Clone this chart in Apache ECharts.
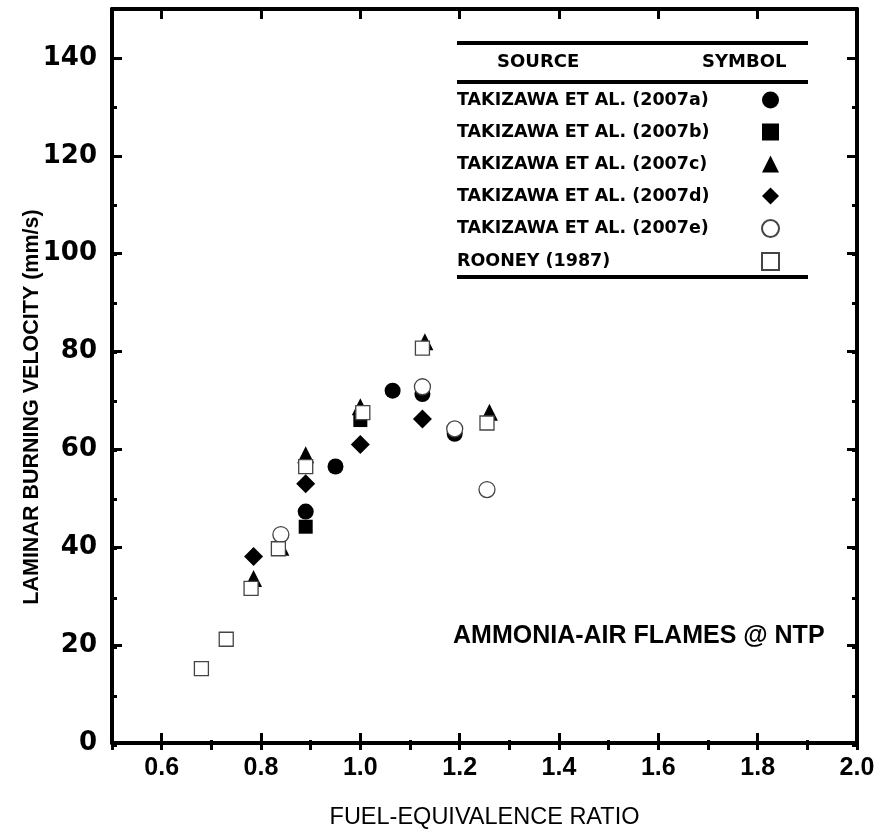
<!DOCTYPE html>
<html>
<head>
<meta charset="utf-8">
<title>Ammonia-air laminar burning velocity</title>
<script src="https://cdn.jsdelivr.net/npm/echarts@6/dist/echarts.min.js"></script>
<style>
	html, body { margin: 0; padding: 0; background: #fff; }
	#chart { width: 880px; height: 835px; }
</style>
</head>
<body>
<div id="chart"></div>
<script>
/* series names (legend order) */
var sourceNames = [
	"TAKIZAWA ET AL. (2007a)",
	"TAKIZAWA ET AL. (2007b)",
	"TAKIZAWA ET AL. (2007c)",
	"TAKIZAWA ET AL. (2007d)",
	"TAKIZAWA ET AL. (2007e)",
	"ROONEY (1987)"
];

/* fuel-equivalence ratio / burning velocity (mm/s) */
var phiA = [0.89, 0.95, 1.065, 1.125, 1.19];
var suA = [47.3, 56.5, 72.0, 71.3, 63.2];

var phiB = [0.89, 1.0];
var suB = [44.2, 66.0];

var phiC = [0.785, 0.84, 0.89, 1.0, 1.13, 1.26];
var suC = [33.6, 40.0, 58.9, 68.7, 82.0, 67.6];

var phiD = [0.785, 0.89, 1.0, 1.125];
var suD = [38.1, 53.0, 61.0, 66.2];

var phiE = [0.84, 1.125, 1.19, 1.255];
var suE = [42.6, 72.8, 64.2, 51.8];

var phiR = [0.68, 0.73, 0.78, 0.835, 0.89, 1.005, 1.125, 1.255];
var suR = [15.2, 21.2, 31.6, 39.7, 56.5, 67.5, 80.7, 65.4];

/* axis ranges */
var xMin = 0.5, xMax = 2.0, xMajor = 0.2, xMinor = 0.1;
var yMin = 0, yMax = 150, yMajor = 20, yMinor = 10;

window.onload = function () {
	var chart = echarts.init(document.getElementById("chart"), null, { renderer: "canvas" });

	function pairs(xs, ys) {
		var out = [];
		for (var i = 0; i < xs.length; i++) {
			out.push([xs[i], ys[i]]);
		}
		return out;
	}

	var gridBox = { left: 112, right: 23, top: 9, bottom: 90 };
	var lineStyle = { color: "#000", width: 4 };

	// major ticks + labels (grid 0)
	function majorX(pos, labels) {
		return {
			type: "value", gridIndex: 0, position: pos,
			min: xMin, max: xMax, minInterval: xMajor, maxInterval: xMajor,
			axisLine: { show: true, onZero: false, lineStyle: lineStyle },
			axisTick: { show: true, inside: true, length: 10, lineStyle: { color: "#000", width: 3 } },
			axisLabel: {
				show: labels, margin: 13, showMinLabel: false,
				fontFamily: "Liberation Sans", fontWeight: "bold", fontSize: 25, color: "#000",
				formatter: function (v) { return v.toFixed(1); }
			},
			splitLine: { show: false },
			name: labels ? "FUEL-EQUIVALENCE RATIO" : "",
			nameLocation: "middle", nameGap: 63, nameMoveOverlap: false,
			nameTextStyle: { fontFamily: "Liberation Sans", fontSize: 23.5, color: "#000" }
		};
	}
	function majorY(pos, labels) {
		return {
			type: "value", gridIndex: 0, position: pos,
			min: yMin, max: yMax, interval: yMajor,
			axisLine: { show: true, onZero: false, lineStyle: lineStyle },
			axisTick: { show: true, inside: true, length: 10, lineStyle: { color: "#000", width: 3 } },
			axisLabel: {
				show: labels, margin: 15, showMaxLabel: false,
				fontFamily: "DejaVu Sans", fontWeight: "bold", fontSize: 26, color: "#000"
			},
			splitLine: { show: false },
			name: labels ? "LAMINAR BURNING VELOCITY (mm/s)" : "",
			nameLocation: "middle", nameGap: 69, nameMoveOverlap: false,
			nameTextStyle: {
				fontFamily: "Liberation Sans", fontWeight: "bold", fontSize: 21.5, color: "#000",
				padding: [0, 62, 0, 0]
			}
		};
	}
	// minor ticks (grid 1, same box)
	function minorX(pos) {
		return {
			type: "value", gridIndex: 1, position: pos,
			min: xMin, max: xMax, interval: xMinor,
			axisLine: { show: false },
			axisTick: { show: true, inside: true, length: 5, lineStyle: { color: "#000", width: 3 } },
			axisLabel: { show: false },
			splitLine: { show: false }
		};
	}
	function minorY(pos) {
		return {
			type: "value", gridIndex: 1, position: pos,
			min: yMin, max: yMax, interval: yMinor,
			axisLine: { show: false },
			axisTick: { show: true, inside: true, length: 5, lineStyle: { color: "#000", width: 3 } },
			axisLabel: { show: false },
			splitLine: { show: false }
		};
	}

	var filled = { color: "#000", opacity: 1 };
	var hollow = { color: "#fff", borderColor: "#444", borderWidth: 1.3, opacity: 1 };

	function scatter(name, xs, ys, symbol, size, style) {
		return {
			name: name, type: "scatter", xAxisIndex: 0, yAxisIndex: 0,
			symbol: symbol, symbolSize: size, itemStyle: style,
			emphasis: { disabled: true },
			data: pairs(xs, ys)
		};
	}

	var option = {
		backgroundColor: "#fff",
		animation: false,
		grid: [
			Object.assign({}, gridBox),
			Object.assign({}, gridBox)
		],
		xAxis: [majorX("bottom", true), majorX("top", false), minorX("bottom"), minorX("top")],
		yAxis: [majorY("left", true), majorY("right", false), minorY("left"), minorY("right")],
		legend: {
			data: sourceNames,
			orient: "vertical",
			align: "right",
			left: 457,
			top: 91,
			padding: 0,
			itemGap: 14,
			itemWidth: 17,
			itemHeight: 17,
			selectedMode: false,
			formatter: function (name) { return "{a|" + name + "}"; },
			textStyle: {
				rich: {
					a: {
						width: 300, align: "left", lineHeight: 20,
						fontFamily: "DejaVu Sans", fontWeight: "bold", fontSize: 17.5, color: "#000"
					}
				}
			}
		},
		graphic: [
			/* legend table rules */
			{ type: "line", shape: { x1: 457, y1: 43, x2: 808, y2: 43 }, style: { stroke: "#000", lineWidth: 4 } },
			{ type: "line", shape: { x1: 457, y1: 82, x2: 808, y2: 82 }, style: { stroke: "#000", lineWidth: 4 } },
			{ type: "line", shape: { x1: 457, y1: 277, x2: 808, y2: 277 }, style: { stroke: "#000", lineWidth: 4 } },
			{
				type: "text", left: 497, top: 53,
				style: { text: "SOURCE", fontFamily: "DejaVu Sans", fontWeight: "bold", fontSize: 18, fill: "#000" }
			},
			{
				type: "text", left: 702, top: 53,
				style: { text: "SYMBOL", fontFamily: "DejaVu Sans", fontWeight: "bold", fontSize: 18, fill: "#000" }
			},
			/* annotation */
			{
				type: "text", left: 453, top: 624,
				style: { text: "AMMONIA-AIR FLAMES @ NTP", fontFamily: "Liberation Sans", fontWeight: "bold", fontSize: 25, fill: "#000" }
			}
		],
		series: [
			scatter(sourceNames[0], phiA, suA, "circle", 16, filled),
			scatter(sourceNames[1], phiB, suB, "rect", 14, filled),
			scatter(sourceNames[2], phiC, suC, "triangle", 17, filled),
			scatter(sourceNames[3], phiD, suD, "diamond", 19, filled),
			scatter(sourceNames[4], phiE, suE, "circle", 16, hollow),
			scatter(sourceNames[5], phiR, suR, "rect", 14, hollow)
		]
	};

	chart.setOption(option);
};
</script>
</body>
</html>
